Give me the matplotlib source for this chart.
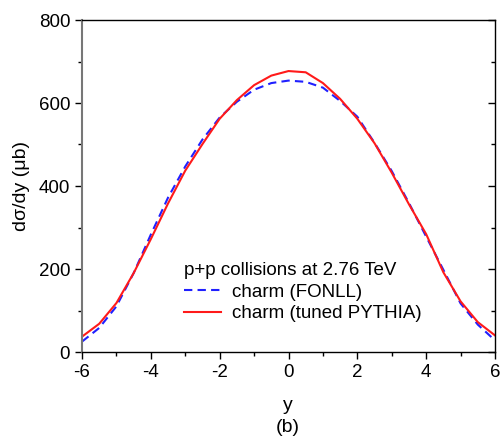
import numpy as np
import matplotlib
matplotlib.use("Agg")
import matplotlib.pyplot as plt
from matplotlib.ticker import MultipleLocator

plt.rcParams["font.family"] = ["Liberation Sans", "DejaVu Sans"]
plt.rcParams["axes.unicode_minus"] = False

# rapidity grid
y = [-6, -5.5, -5, -4.5, -4, -3.5, -3, -2.5, -2, -1.5, -1, -0.5, 0,
     0.5, 1, 1.5, 2, 2.5, 3, 3.5, 4, 4.5, 5, 5.5, 6]

# charm (FONLL)
fonll = [25, 58, 110, 190, 283, 372, 447, 512, 565, 603, 632, 648, 654,
         651, 637, 605, 567, 504, 436, 359, 278, 198, 117, 66, 28]

# charm (tuned PYTHIA)
pythia = [37, 68, 118, 190, 272, 358, 437, 501, 562, 607, 643, 666, 677,
          674, 648, 610, 562, 503, 432, 356, 284, 192, 122, 72, 40]

fig = plt.figure(figsize=(5.01, 4.40), dpi=100)
ax = fig.add_axes([82 / 501, 1 - 352 / 440, 413 / 501, 332 / 440])

ax.plot(y, fonll, color="#2020ff", ls=(0, (4, 2.5)), lw=1.5,
        label="charm (FONLL)")
ax.plot(y, pythia, color="#ff1a1a", ls="-", lw=1.5,
        label="charm (tuned PYTHIA)")

ax.set_xlim(-6, 6)
ax.set_ylim(0, 800)
ax.xaxis.set_major_locator(MultipleLocator(2))
ax.xaxis.set_minor_locator(MultipleLocator(1))
ax.yaxis.set_major_locator(MultipleLocator(200))
ax.yaxis.set_minor_locator(MultipleLocator(100))

ax.tick_params(axis="both", which="major", labelsize=13.5, length=5,
               width=1, direction="out", top=False)
ax.tick_params(axis="both", which="minor", length=3, width=1,
               direction="out", top=False)
ax.tick_params(axis="y", which="both", right=True)
# right side ticks point into the plot
for t in ax.yaxis.get_major_ticks() + ax.yaxis.get_minor_ticks():
    t.tick2line.set_marker(matplotlib.lines.TICKLEFT)

ax.spines["left"].set_color("#777777")
ax.spines["left"].set_linewidth(1.5)
for s in ("right", "top", "bottom"):
    ax.spines[s].set_linewidth(1)

ax.set_ylabel("d\u03c3/dy (\u03bcb)", fontsize=14, labelpad=6)
fig.text(288 / 501, 1 - 405 / 440, "y", ha="center", va="center", fontsize=14)
fig.text(288 / 501, 1 - 427 / 440, "(b)", ha="center", va="center", fontsize=14)

leg = ax.legend(loc="upper left", bbox_to_anchor=(0.215, 0.31),
                title="p+p collisions at 2.76 TeV", title_fontsize=13.5,
                fontsize=13.5, frameon=False, handlelength=2.0,
                handletextpad=0.55, labelspacing=0.24, borderpad=0.2)
leg._legend_box.align = "left"

fig.savefig("out.png", dpi=100)
